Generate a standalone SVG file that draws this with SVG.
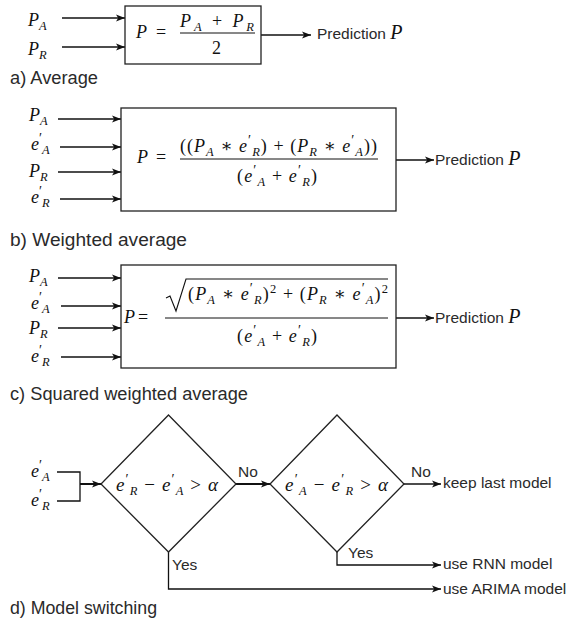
<svg xmlns="http://www.w3.org/2000/svg" width="573" height="622" viewBox="0 0 573 622">
<defs>
<marker id="arr" markerUnits="userSpaceOnUse" markerWidth="10" markerHeight="8" refX="9" refY="4" orient="auto">
<path d="M0,0.5 L9,4 L0,7.5 L2.2,4 Z" fill="#111"/>
</marker>
<style>
.bx{fill:#fff;stroke:#222;stroke-width:1.3}
.ln{fill:none;stroke:#111;stroke-width:1.3}
.ar{fill:none;stroke:#111;stroke-width:1.3;marker-end:url(#arr)}
.lbl{font-family:"Liberation Sans",Arial,sans-serif;font-size:17.5px;fill:#2a2a2a}
.fl{font-family:"Liberation Sans",Arial,sans-serif;font-size:15.5px;fill:#2a2a2a}
.m{font-family:"Liberation Serif","DejaVu Serif",serif;font-size:18px;font-style:italic;fill:#111}
.dm{font-family:"Liberation Serif","DejaVu Serif",serif;font-size:19px;font-style:italic;fill:#111}
.r{font-style:normal}
.s{font-size:12.5px}
.p{font-size:14px;font-style:normal}
.sup{font-size:12.5px;font-style:normal}
</style>
</defs>

<g id="connectors">
<line class="ar" x1="62" y1="18" x2="125" y2="18"/>
<line class="ar" x1="62" y1="47" x2="125" y2="47"/>
<line class="ar" x1="261" y1="35" x2="311" y2="35"/>
<line class="ar" x1="58" y1="119" x2="121" y2="119"/>
<line class="ar" x1="60" y1="147" x2="121" y2="147"/>
<line class="ar" x1="58" y1="172" x2="121" y2="172"/>
<line class="ar" x1="60" y1="199" x2="121" y2="199"/>
<line class="ar" x1="396" y1="160" x2="434" y2="160"/>
<line class="ar" x1="58" y1="278" x2="121" y2="278"/>
<line class="ar" x1="61" y1="306" x2="121" y2="306"/>
<line class="ar" x1="58" y1="328" x2="121" y2="328"/>
<line class="ar" x1="61" y1="357" x2="121" y2="357"/>
<line class="ar" x1="396" y1="318" x2="434" y2="318"/>
<polyline class="ln" points="57,472 80,472 80,501 57,501"/>
<line class="ar" x1="80" y1="484" x2="101" y2="484" style="stroke-width:2"/>
<line class="ar" x1="236" y1="484" x2="270" y2="484" style="stroke-width:2"/>
<line class="ar" x1="404" y1="484" x2="441" y2="484"/>
<polyline class="ar" points="337,552 337,565 441,565"/>
<polyline class="ar" points="168.5,552 168.5,589 441,589"/>
<text class="fl" x="238" y="477">No</text>
<text class="fl" x="411" y="477">No</text>
<text class="fl" x="348" y="558">Yes</text>
<text class="fl" x="172" y="570">Yes</text>
</g>

<g id="a-inputs">
<text class="m" x="28" y="26">P<tspan class="s" dy="4">A</tspan></text>
<text class="m" x="28" y="55">P<tspan class="s" dy="4">R</tspan></text>
</g>
<g id="a-box">
<rect class="bx" x="125" y="6" width="136" height="58"/>
<text class="m" x="136" y="38">P</text>
<text class="m r" x="156" y="38">=</text>
<text class="m" x="180" y="27" textLength="74" lengthAdjust="spacing">P<tspan class="s" dy="4">A</tspan><tspan class="r" dy="-4"> + </tspan>P<tspan class="s" dy="4">R</tspan></text>
<line x1="180" y1="33" x2="255" y2="33" stroke="#111" stroke-width="1"/>
<text class="m r" x="212" y="54">2</text>
</g>
<g id="a-out"><text class="fl" x="317" y="39">Prediction <tspan class="m" style="font-size:20px">P</tspan></text></g>
<g id="a-label"><text class="lbl" x="10" y="84" textLength="88" lengthAdjust="spacingAndGlyphs">a) Average</text></g>

<g id="b-inputs">
<text class="m" x="29" y="121">P<tspan class="s" dy="4">A</tspan></text>
<text class="m" x="31" y="150">e<tspan class="p" dy="-7">′</tspan><tspan class="s" dy="11">A</tspan></text>
<text class="m" x="29" y="177">P<tspan class="s" dy="4">R</tspan></text>
<text class="m" x="31" y="203">e<tspan class="p" dy="-7">′</tspan><tspan class="s" dy="11">R</tspan></text>
</g>
<g id="b-box">
<rect class="bx" x="121" y="108" width="275" height="103"/>
<text class="m" x="137" y="163">P</text>
<text class="m r" x="156" y="163">=</text>
<text class="m" x="180" y="152" textLength="197" lengthAdjust="spacing"><tspan class="r">((</tspan>P<tspan class="s" dy="4">A</tspan><tspan class="r" dy="-4"> ∗ </tspan>e<tspan class="p" dy="-7">′</tspan><tspan class="s" dy="11">R</tspan><tspan class="r" dy="-4">) + (</tspan>P<tspan class="s" dy="4">R</tspan><tspan class="r" dy="-4"> ∗ </tspan>e<tspan class="p" dy="-7">′</tspan><tspan class="s" dy="11">A</tspan><tspan class="r" dy="-4">))</tspan></text>
<line x1="180" y1="159" x2="378" y2="159" stroke="#111" stroke-width="1"/>
<text class="m" x="237" y="182" textLength="80" lengthAdjust="spacing"><tspan class="r">(</tspan>e<tspan class="p" dy="-7">′</tspan><tspan class="s" dy="11">A</tspan><tspan class="r" dy="-4"> + </tspan>e<tspan class="p" dy="-7">′</tspan><tspan class="s" dy="11">R</tspan><tspan class="r" dy="-4">)</tspan></text>
</g>
<g id="b-out"><text class="fl" x="435" y="165">Prediction <tspan class="m" style="font-size:20px">P</tspan></text></g>
<g id="b-label"><text class="lbl" x="10" y="246" textLength="177" lengthAdjust="spacingAndGlyphs">b) Weighted average</text></g>

<g id="c-inputs">
<text class="m" x="29" y="282">P<tspan class="s" dy="4">A</tspan></text>
<text class="m" x="31" y="309">e<tspan class="p" dy="-7">′</tspan><tspan class="s" dy="11">A</tspan></text>
<text class="m" x="29" y="334">P<tspan class="s" dy="4">R</tspan></text>
<text class="m" x="31" y="362">e<tspan class="p" dy="-7">′</tspan><tspan class="s" dy="11">R</tspan></text>
</g>
<g id="c-box">
<rect class="bx" x="121" y="265" width="275" height="103"/>
<text class="m" x="124" y="323">P</text>
<text class="m r" x="138" y="323">=</text>
<path d="M166,298 L170,296 L176,311 L186,279 L388,279" fill="none" stroke="#111" stroke-width="1.1"/>
<text class="m" x="188" y="300" textLength="200" lengthAdjust="spacing"><tspan class="r">(</tspan>P<tspan class="s" dy="4">A</tspan><tspan class="r" dy="-4"> ∗ </tspan>e<tspan class="p" dy="-7">′</tspan><tspan class="s" dy="11">R</tspan><tspan class="r" dy="-4">)</tspan><tspan class="sup" dy="-7">2</tspan><tspan class="r" dy="7"> + (</tspan>P<tspan class="s" dy="4">R</tspan><tspan class="r" dy="-4"> ∗ </tspan>e<tspan class="p" dy="-7">′</tspan><tspan class="s" dy="11">A</tspan><tspan class="r" dy="-4">)</tspan><tspan class="sup" dy="-7">2</tspan></text>
<line x1="165" y1="318" x2="388" y2="318" stroke="#111" stroke-width="1"/>
<text class="m" x="237" y="342" textLength="80" lengthAdjust="spacing"><tspan class="r">(</tspan>e<tspan class="p" dy="-7">′</tspan><tspan class="s" dy="11">A</tspan><tspan class="r" dy="-4"> + </tspan>e<tspan class="p" dy="-7">′</tspan><tspan class="s" dy="11">R</tspan><tspan class="r" dy="-4">)</tspan></text>
</g>
<g id="c-out"><text class="fl" x="435" y="323">Prediction <tspan class="m" style="font-size:20px">P</tspan></text></g>
<g id="c-label"><text class="lbl" x="10" y="400" textLength="238" lengthAdjust="spacingAndGlyphs">c) Squared weighted average</text></g>

<g id="d-inputs">
<text class="m" x="31" y="477">e<tspan class="p" dy="-7">′</tspan><tspan class="s" dy="11">A</tspan></text>
<text class="m" x="31" y="506">e<tspan class="p" dy="-7">′</tspan><tspan class="s" dy="11">R</tspan></text>
</g>
<g id="d-diamond1">
<polygon class="bx" points="168.5,415 236,484 168.5,552 101,484"/>
<text class="dm" x="116" y="491" textLength="102" lengthAdjust="spacing">e<tspan class="p" dy="-7">′</tspan><tspan class="s" dy="11">R</tspan><tspan class="r" dy="-4"> − </tspan>e<tspan class="p" dy="-7">′</tspan><tspan class="s" dy="11">A</tspan><tspan class="r" dy="-4"> &gt; </tspan>α</text>
</g>
<g id="d-diamond2">
<polygon class="bx" points="337,415 404,484 337,552 270,484"/>
<text class="dm" x="285" y="491" textLength="103" lengthAdjust="spacing">e<tspan class="p" dy="-7">′</tspan><tspan class="s" dy="11">A</tspan><tspan class="r" dy="-4"> − </tspan>e<tspan class="p" dy="-7">′</tspan><tspan class="s" dy="11">R</tspan><tspan class="r" dy="-4"> &gt; </tspan>α</text>
</g>
<g id="d-keep"><text class="fl" x="443" y="488">keep last model</text></g>
<g id="d-rnn"><text class="fl" x="443" y="569">use RNN model</text></g>
<g id="d-arima"><text class="fl" x="443" y="594">use ARIMA model</text></g>
<g id="d-label"><text class="lbl" x="10" y="614" textLength="147" lengthAdjust="spacingAndGlyphs">d) Model switching</text></g>
</svg>
